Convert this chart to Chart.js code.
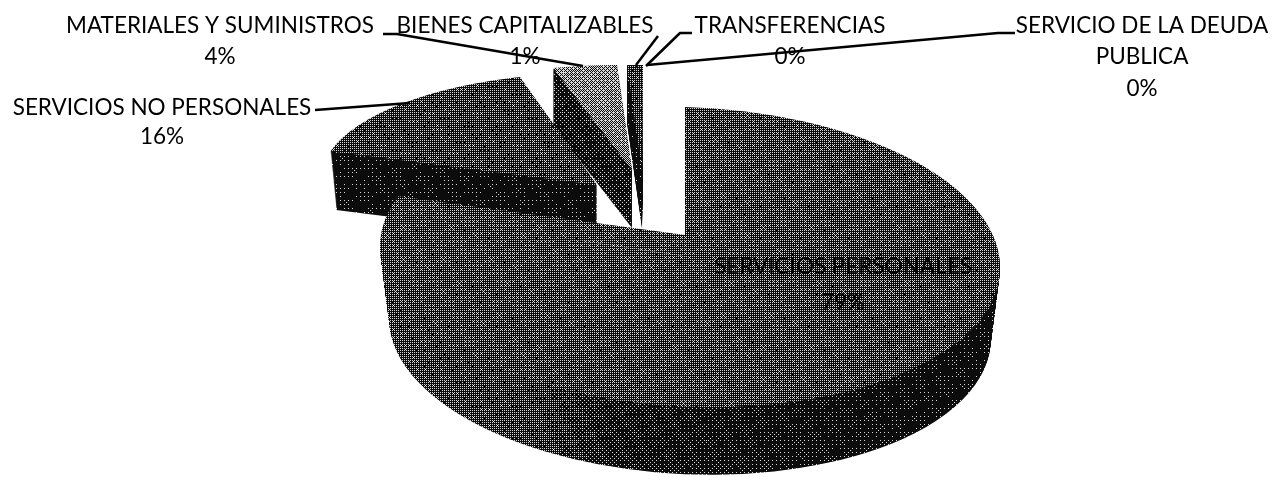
<!DOCTYPE html>
<html><head><meta charset="utf-8">
<style>html,body{margin:0;padding:0;background:#fff}canvas{display:block}</style>
<script src="https://cdn.jsdelivr.net/npm/chart.js@4"></script>
</head><body>
<canvas id="c" width="1272" height="477"></canvas>
<script>
const categories = ["SERVICIOS PERSONALES","SERVICIOS NO PERSONALES","MATERIALES Y SUMINISTROS","BIENES CAPITALIZABLES","TRANSFERENCIAS","SERVICIO DE LA DEUDA PUBLICA"];
const values = [79,16,4,1,0,0];

// view of each exploded slice: pie unit circle -> page (tx,ty,A,B,C,D), extrusion depth and taper
const views = [
  {tx:690,ty:257,A:310,B:5,C:8,D:150,depth:72,taper:.03},
  {tx:597,ty:185,A:277.6,B:-9.2,C:6.2,D:111.6,depth:58,taper:.022},
  {tx:632,ty:170,A:259.6,B:-1.3,C:7.8,D:104.7,depth:58,taper:0},
  {tx:642,ty:170,A:254.7,B:-1,C:3.3,D:105,depth:58,taper:0}
];
const labelLayout = [
  {x:843,y:[267]},
  {x:162,y:[108]},
  {x:220,y:[26]},
  {x:525,y:[26]},
  {x:790,y:[26]},
  {x:1142,y:[26,57],lines:["SERVICIO DE LA DEUDA","PUBLICA"]}
];
const pctY = [303,137,57,57,57,89];
const leaders = [
  [[383,34],[397,34],[583,66]],
  [[315,110],[410,103]],
  [[658,36],[636,65]],
  [[692,33],[680,33],[646,66]],
  [[1015,33],[998,33],[647,65]]
];

const W=1272,H=477;
const bayer=[0,32,8,40,2,34,10,42,48,16,56,24,50,18,58,26,12,44,4,36,14,46,6,38,60,28,52,20,62,30,54,22,3,35,11,43,1,33,9,41,51,19,59,27,49,17,57,25,15,47,7,39,13,45,5,37,63,31,55,23,61,29,53,21];
function halftone(levelAt){
  const t=document.createElement('canvas');t.width=W;t.height=H;
  const g=t.getContext('2d');const im=g.createImageData(W,H);
  for(let y=0;y<H;y++)for(let x=0;x<W;x++){
    const m=0.05*Math.sin(x*0.21+y*0.13)*Math.cos(y*0.29-x*0.07);
    const th=(bayer[(y%8)*8+(x%8)]+0.5)/64;
    const v=(levelAt(x,y)+m)>th?215:12;
    const i=(y*W+x)*4;im.data[i]=im.data[i+1]=im.data[i+2]=v;im.data[i+3]=255;
  }
  g.putImageData(im,0,0);
  return document.createElement('canvas').getContext('2d').createPattern(t,'repeat');
}
const mainSideStops=[[380,.27],[540,.24],[610,.12],[700,.09],[900,.05],[1000,.04]];
function mainSideLevel(x){
  for(let i=1;i<mainSideStops.length;i++){
    const [x0,l0]=mainSideStops[i-1],[x1,l1]=mainSideStops[i];
    if(x<=x1)return l0+(l1-l0)*Math.max(0,x-x0)/(x1-x0);
  }
  return .04;
}
const faces=[halftone(()=>.28),halftone(()=>.25),halftone((x,y)=>.6-(y-65)*.0008),halftone(()=>.25)];
const sides=[
  halftone(mainSideLevel),
  halftone(()=>.04),
  halftone(()=>.12),
  halftone(()=>.03)
];
const patchExtraDeg=6.4, apexUnit=[-0.0138,-0.146];

function place(ctx,arc,v,dy){
  const R=arc.outerRadius,s=1-v.taper*dy/v.depth,a=s*v.A/R,c=s*v.B/R,b=s*v.C/R,d=s*v.D/R;
  ctx.setTransform(a,b,c,d,v.tx-a*arc.x-c*arc.y,v.ty+dy-b*arc.x-d*arc.y);
}
function paint(ctx,arc,pat){
  pat.setTransform(ctx.getTransform().inverse());
  const keep=arc.options;
  arc.options=Object.assign({},keep,{backgroundColor:pat});
  arc.draw(ctx);
  arc.options=keep;
}
const exploded3d={
  id:'exploded3d',
  beforeDatasetsDraw(chart){
    const ctx=chart.ctx,arcs=chart.getDatasetMeta(0).data;
    ctx.save();
    [2,3,1,0].forEach(i=>{
      const arc=arcs[i],v=views[i];
      for(let dy=v.depth;dy>=1;dy--){place(ctx,arc,v,dy);paint(ctx,arc,sides[i]);}
      place(ctx,arc,v,0);paint(ctx,arc,faces[i]);
      if(i===0){
        const R=arc.outerRadius,x=arc.x,y=arc.y;
        ctx.beginPath();ctx.moveTo(x,y);
        ctx.arc(x,y,R,arc.endAngle,arc.endAngle+patchExtraDeg*Math.PI/180);
        ctx.lineTo(x+apexUnit[0]*R,y+apexUnit[1]*R);
        ctx.lineTo(x+R*Math.cos(arc.startAngle),y+R*Math.sin(arc.startAngle));
        ctx.closePath();
        faces[0].setTransform(ctx.getTransform().inverse());
        ctx.fillStyle=faces[0];ctx.fill();
      }
    });
    ctx.restore();
    return false;
  },
  afterDraw(chart){
    const ctx=chart.ctx;
    ctx.save();
    ctx.strokeStyle='#000';ctx.lineWidth=2.5;ctx.lineJoin='round';
    leaders.forEach(l=>{ctx.beginPath();l.forEach((p,i)=>i?ctx.lineTo(p[0],p[1]):ctx.moveTo(p[0],p[1]));ctx.stroke();});
    ctx.font='22.5px Lato';ctx.textAlign='center';ctx.textBaseline='middle';ctx.fillStyle='#000';
    categories.forEach((name,i)=>{
      const L=labelLayout[i],lines=L.lines||[name];
      lines.forEach((t,j)=>ctx.fillText(t,L.x,L.y[j]));
      ctx.fillText(values[i]+'%',L.x,pctY[i]);
    });
    ctx.restore();
  }
};
new Chart(document.getElementById('c'),{
  type:'pie',
  data:{labels:categories,datasets:[{data:values,backgroundColor:['#555','#4d4d4d','#999','#4d4d4d','#333','#222'],borderWidth:0}]},
  options:{responsive:false,animation:false,plugins:{legend:{display:false},tooltip:{enabled:false}}},
  plugins:[exploded3d]
});
</script>
</body></html>
